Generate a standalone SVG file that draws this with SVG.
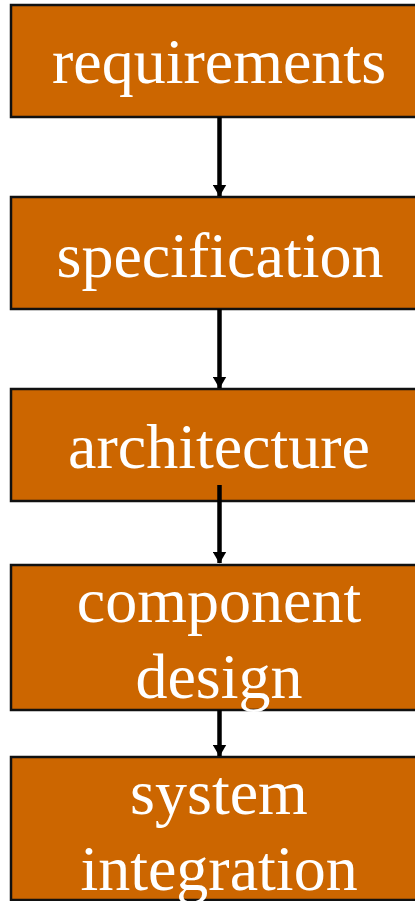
<svg xmlns="http://www.w3.org/2000/svg" width="415" height="901" viewBox="0 0 415 901">
<style>
.box{fill:#CC6600;stroke:#111;stroke-width:2.5}
.lbl{font-family:"Liberation Serif","Times New Roman",serif;font-size:64px;fill:#fff;text-anchor:middle}
.edge{stroke:#000;stroke-width:4.5;fill:none;marker-end:url(#ah)}
</style>
<defs>
<marker id="ah" markerUnits="userSpaceOnUse" markerWidth="12" markerHeight="14" refX="11.5" refY="7" orient="auto" viewBox="0 0 12 14">
<path d="M0,0 L12,7 L0,14 Z" fill="#000"/>
</marker>
</defs>
<g id="n1"><rect class="box" x="11" y="5" width="420" height="112"/><text class="lbl" x="219" y="83">requirements</text></g>
<g id="n2"><rect class="box" x="11" y="197" width="420" height="112"/><text class="lbl" x="220" y="277">specification</text></g>
<g id="n3"><rect class="box" x="11" y="389" width="420" height="112"/><text class="lbl" x="219" y="468">architecture</text></g>
<g id="n4"><rect class="box" x="11" y="565" width="420" height="145"/><text class="lbl" x="219" y="622">component</text><text class="lbl" x="219" y="698">design</text></g>
<g id="n5"><rect class="box" x="11" y="757" width="420" height="143"/><text class="lbl" x="219" y="814">system</text><text class="lbl" x="219" y="890">integration</text></g>
<g id="connectors">
<line class="edge" x1="219.5" y1="117" x2="219.5" y2="196"/>
<line class="edge" x1="219.5" y1="309" x2="219.5" y2="388"/>
<line class="edge" x1="219.5" y1="485" x2="219.5" y2="563"/>
<line class="edge" x1="219.5" y1="710" x2="219.5" y2="756"/>
</g>
</svg>
